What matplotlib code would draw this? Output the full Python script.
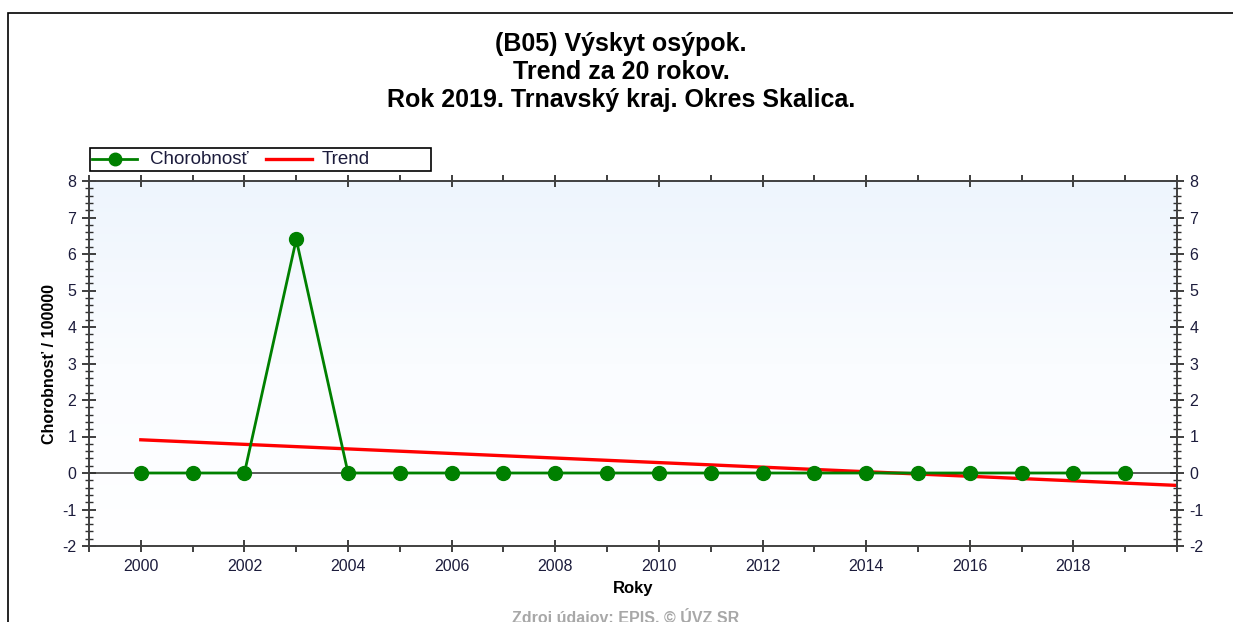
"""(B05) Výskyt osýpok - trend za 20 rokov, okres Skalica."""
import numpy as np
import matplotlib.pyplot as plt
from matplotlib.patches import Rectangle
from matplotlib.lines import Line2D
from matplotlib.colors import LinearSegmentedColormap
from matplotlib.ticker import MultipleLocator

plt.rcParams["font.family"] = ["Liberation Sans", "DejaVu Sans"]
plt.rcParams["axes.unicode_minus"] = False

years = [2000, 2001, 2002, 2003, 2004, 2005, 2006, 2007, 2008, 2009,
         2010, 2011, 2012, 2013, 2014, 2015, 2016, 2017, 2018, 2019]
incidence = [0, 0, 0, 6.4, 0, 0, 0, 0, 0, 0,
             0, 0, 0, 0, 0, 0, 0, 0, 0, 0]
trend_years = [2000, 2020]
trend_values = [0.91, -0.34]

title_lines = ["(B05) Výskyt osýpok.", "Trend za 20 rokov.",
               "Rok 2019. Trnavský kraj. Okres Skalica."]
x_ticks = [2000, 2002, 2004, 2006, 2008, 2010, 2012, 2014, 2016, 2018]
y_ticks = [-2, -1, 0, 1, 2, 3, 4, 5, 6, 7, 8]

W, H = 1233, 622
fig = plt.figure(figsize=(W / 100, H / 100), dpi=100)

# outer frame (cut off at right and bottom like the original screenshot)
fig.patches.append(Rectangle((7.5 / W, -0.05), 1.1, 1.05 - 12.5 / H,
                             transform=fig.transFigure, fill=False,
                             edgecolor="black", linewidth=1.2))

ax = fig.add_axes([89 / W, 1 - 546 / H, (1177 - 89) / W, (546 - 181) / H])
ax.set_xlim(1999, 2020)
ax.set_ylim(-2, 8)

# light blue gradient background
grad = np.linspace(0, 1, 256).reshape(-1, 1)
bg = LinearSegmentedColormap.from_list("bg", ["#ffffff", "#fafcff", "#eef5fd"])
ax.imshow(grad, extent=[1999, 2020, -2, 8], aspect="auto", origin="lower",
          cmap=bg, zorder=0)

ax.axhline(0, color="#404040", linewidth=1.2, zorder=1)
ax.plot(trend_years, trend_values, color="red", linewidth=2.4, zorder=2)
ax.plot(years, incidence, color="green", linewidth=2.0, marker="o",
        markersize=10, zorder=3)

for s in ax.spines.values():
    s.set_color("#404040")
    s.set_linewidth(1.4)

ax.set_xticks(x_ticks)
ax.xaxis.set_minor_locator(MultipleLocator(1))
ax.set_yticks(y_ticks)
ax.yaxis.set_minor_locator(MultipleLocator(0.2))
ax.tick_params(axis="x", which="major", direction="inout", length=9,
               width=1.3, color="#303030", labelsize=11.5,
               labelcolor="#1c1c3c", pad=5, top=True)
ax.tick_params(axis="x", which="minor", direction="out", length=4,
               width=1.3, color="#303030", top=True)
ax.tick_params(axis="y", which="major", direction="inout", length=10,
               width=1.3, color="#303030", labelsize=11.5,
               labelcolor="#1c1c3c", right=True, labelright=True, pad=4)
ax.tick_params(axis="y", which="minor", direction="inout", length=6,
               width=1.0, color="#303030", right=True)

ax.set_xlabel("Roky", fontsize=12, fontweight="bold", labelpad=5)
ax.set_ylabel("Chorobnosť / 100000", fontsize=11.5, fontweight="bold",
              labelpad=4)

# legend box above the plot
fig.patches.append(Rectangle((90 / W, 1 - 171 / H), (431 - 90) / W, 23 / H,
                             transform=fig.transFigure, facecolor="white",
                             edgecolor="black", linewidth=1.2))
ly = 1 - 159.5 / H
fig.lines.append(Line2D([92 / W, 137 / W], [ly, ly], transform=fig.transFigure,
                        color="green", linewidth=2.0))
fig.lines.append(Line2D([115 / W], [ly], transform=fig.transFigure,
                        color="green", marker="o", markersize=9))
fig.lines.append(Line2D([266 / W, 312 / W], [ly, ly], transform=fig.transFigure,
                        color="red", linewidth=2.4))
fig.text(150 / W, ly, "Chorobnosť", ha="left", va="center", fontsize=13.5,
         color="#1c1c3c")
fig.text(322 / W, ly, "Trend", ha="left", va="center", fontsize=13.5,
         color="#1c1c3c")

for i, line in enumerate(title_lines):
    fig.text(621 / W, 1 - (44 + 28 * i) / H, line, ha="center", va="center",
             fontsize=18, fontweight="bold")

fig.text(626 / W, 1 - 617 / H, "Zdroj údajov: EPIS, © ÚVZ SR",
         ha="center", va="center", fontsize=11.5, fontweight="bold",
         color="#a8a8a8")

plt.savefig("out.png", dpi=100)
